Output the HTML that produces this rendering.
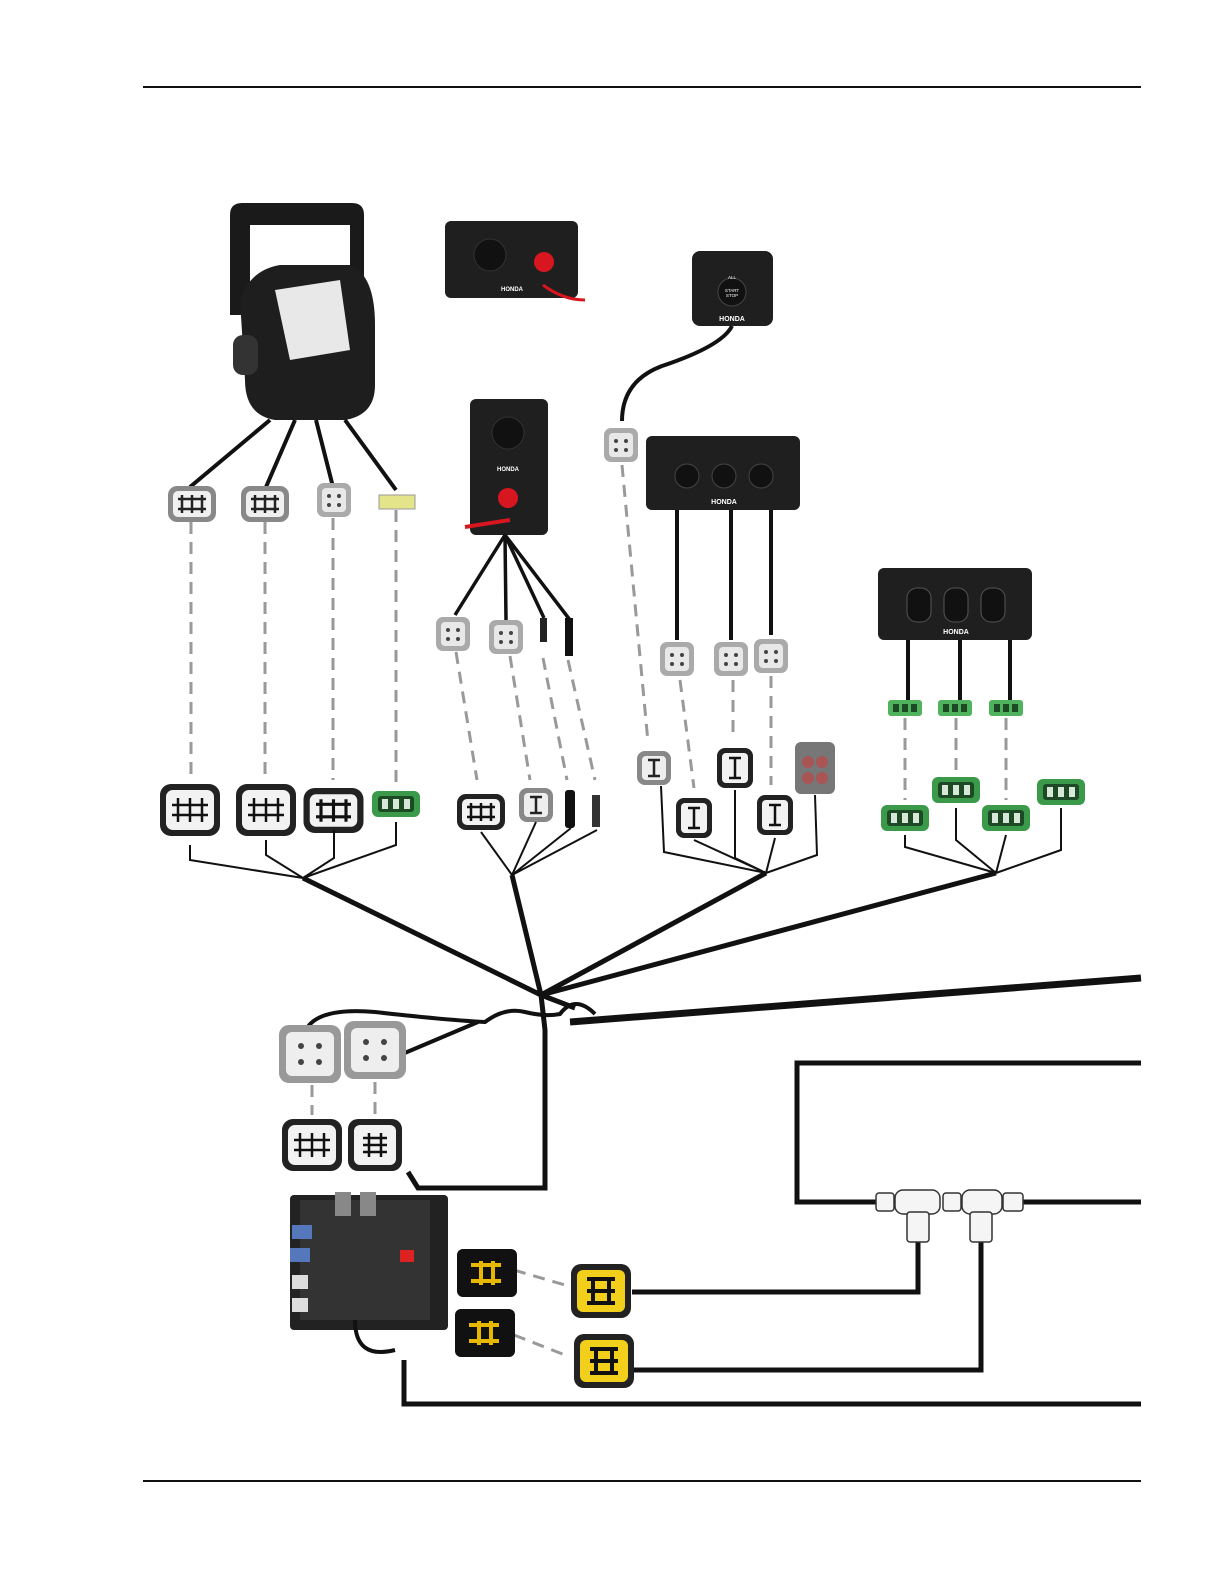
<!DOCTYPE html>
<html><head><meta charset="utf-8"><style>
html,body{margin:0;padding:0;background:#fff;overflow:hidden;width:1224px;height:1584px}
svg{display:block}
text{font-family:"Liberation Sans",sans-serif}
</style></head><body>
<svg width="1224" height="1584" viewBox="0 0 1224 1584" xmlns="http://www.w3.org/2000/svg">
<defs>
<g id="cw"><rect x="-24" y="-18" width="48" height="36" rx="9" fill="#222"/><rect x="-19" y="-13" width="38" height="26" rx="5" fill="#f2f2f2"/><path d="M-10-9v18M0-9v18M10-9v18M-14-5h28M-14 5h28" stroke="#111" stroke-width="2.5"/></g>
<g id="cwb"><rect x="-30" y="-26" width="60" height="52" rx="11" fill="#222"/><rect x="-24" y="-20" width="48" height="40" rx="7" fill="#f2f2f2"/><path d="M-12-12v24M0-12v24M12-12v24M-18-5h36M-18 5h36" stroke="#111" stroke-width="2.5"/></g>
<g id="cg"><rect x="-24" y="-18" width="48" height="36" rx="9" fill="#888"/><rect x="-19" y="-13" width="38" height="26" rx="5" fill="#f0f0f0"/><path d="M-10-9v18M0-9v18M10-9v18M-14-5h28M-14 5h28" stroke="#222" stroke-width="2.5"/></g>
<g id="cs"><rect x="-17" y="-17" width="34" height="34" rx="8" fill="#888"/><rect x="-12" y="-12" width="24" height="24" rx="4" fill="#eee"/><path d="M0-8v16M-6-8h12M-6 8h12" stroke="#222" stroke-width="2.5"/></g>
<g id="csb"><rect x="-18" y="-20" width="36" height="40" rx="8" fill="#222"/><rect x="-13" y="-15" width="26" height="30" rx="4" fill="#f2f2f2"/><path d="M0-10v20M-6-10h12M-6 10h12" stroke="#111" stroke-width="2.5"/></g>
<g id="csbb"><rect x="-27" y="-26" width="54" height="52" rx="10" fill="#222"/><rect x="-21" y="-20" width="42" height="40" rx="6" fill="#f2f2f2"/><path d="M-6-12v24M6-12v24M-12 0h24M-12-7h24M-12 7h24" stroke="#111" stroke-width="2.5"/></g>
<g id="green"><rect x="-24" y="-13" width="48" height="26" rx="6" fill="#3a9a4a"/><rect x="-18" y="-8" width="36" height="16" rx="3" fill="#1d4a25"/><rect x="-14" y="-5" width="6" height="10" fill="#d8e8d8"/><rect x="-3" y="-5" width="6" height="10" fill="#d8e8d8"/><rect x="8" y="-5" width="6" height="10" fill="#d8e8d8"/></g>
<g id="gsm"><rect x="-17" y="-8" width="34" height="16" rx="3" fill="#4fb35d"/><rect x="-12" y="-4" width="6" height="8" fill="#1d4a25"/><rect x="-3" y="-4" width="6" height="8" fill="#1d4a25"/><rect x="6" y="-4" width="6" height="8" fill="#1d4a25"/></g>
<g id="small"><rect x="-17" y="-17" width="34" height="34" rx="7" fill="#aaa"/><rect x="-12" y="-12" width="24" height="24" rx="4" fill="#e8e8e8"/><circle cx="-5" cy="-4" r="2" fill="#444"/><circle cx="5" cy="-4" r="2" fill="#444"/><circle cx="-5" cy="5" r="2" fill="#444"/><circle cx="5" cy="5" r="2" fill="#444"/></g>
<g id="bigg"><rect x="-31" y="-29" width="62" height="58" rx="10" fill="#999"/><rect x="-24" y="-22" width="48" height="44" rx="6" fill="#eee"/><circle cx="-9" cy="-8" r="3" fill="#444"/><circle cx="9" cy="-8" r="3" fill="#444"/><circle cx="-9" cy="8" r="3" fill="#444"/><circle cx="9" cy="8" r="3" fill="#444"/></g>
<g id="yel"><rect x="-30" y="-27" width="60" height="54" rx="10" fill="#222"/><rect x="-24" y="-21" width="48" height="42" rx="6" fill="#f2cf1a"/><path d="M-14-12h28M-14 12h28M-8-12v24M8-12v24M-14 0h28" stroke="#111" stroke-width="4"/></g>
<g id="yelb"><rect x="-30" y="-24" width="60" height="48" rx="6" fill="#111"/><path d="M-16-8h30M-16 8h30M-6-12v24M6-12v24" stroke="#e8b800" stroke-width="4"/></g>
</defs>
<line x1="143" y1="87" x2="1141" y2="87" stroke="#111" stroke-width="2"/>
<line x1="143" y1="1481" x2="1141" y2="1481" stroke="#111" stroke-width="2"/>

<path d="M230 215q0-12 12-12h110q12 0 12 12v90l-14 0v-80h-100v90l-20 0z" fill="#1a1a1a"/>
<path d="M240 300q10-30 40-35l70 0q25 10 25 60v60q0 30-30 35h-70q-30-5-30-40z" fill="#1e1e1e"/>
<path d="M275 290l65-10 10 70-60 10z" fill="#e8e8e8"/>
<rect x="233" y="335" width="25" height="40" rx="10" fill="#333"/>
<g stroke="#111" stroke-width="4" fill="none">
<path d="M270 420L190 487M295 420L266 487M316 420L333 487M345 420L396 490"/>
</g>
<use href="#cg" x="192" y="504"/><use href="#cg" x="265" y="504"/><use href="#small" x="334" y="500"/>
<rect x="379" y="495" width="36" height="14" fill="#e4e48a" stroke="#999"/>

<rect x="445" y="221" width="133" height="77" rx="6" fill="#1f1f1f"/>
<circle cx="490" cy="255" r="16" fill="#111" stroke="#333"/><circle cx="544" cy="262" r="10" fill="#d8161f"/>
<text x="512" y="291" font-size="6" fill="#fff" text-anchor="middle" font-weight="bold">HONDA</text>
<path d="M543 285q20 15 42 15" stroke="#d8161f" stroke-width="3" fill="none"/>

<rect x="692" y="251" width="81" height="75" rx="8" fill="#1f1f1f"/>
<circle cx="732" cy="292" r="14" fill="#111" stroke="#444"/>
<text x="732" y="321" font-size="7" fill="#fff" text-anchor="middle" font-weight="bold">HONDA</text>
<text x="732" y="279" font-size="4.5" fill="#fff" text-anchor="middle">ALL</text>
<text x="732" y="292" font-size="4.5" fill="#fff" text-anchor="middle">START</text>
<text x="732" y="297" font-size="4.5" fill="#fff" text-anchor="middle">STOP</text>
<path d="M732 326q-10 20-70 40q-40 15-40 55" stroke="#111" stroke-width="4" fill="none"/>
<use href="#small" x="621" y="445"/>

<rect x="470" y="399" width="78" height="136" rx="6" fill="#1f1f1f"/>
<circle cx="508" cy="433" r="16" fill="#111" stroke="#333"/><circle cx="508" cy="498" r="10" fill="#d8161f"/>
<text x="508" y="471" font-size="6" fill="#fff" text-anchor="middle" font-weight="bold">HONDA</text>
<path d="M465 527l45-7" stroke="#d8161f" stroke-width="4"/>
<g stroke="#111" stroke-width="3.5" fill="none"><path d="M505 535L455 615M505 535L506 620M505 535L544 618M505 535L570 620"/></g>
<use href="#small" x="453" y="634"/><use href="#small" x="506" y="637"/>
<rect x="540" y="618" width="7" height="24" fill="#222"/><rect x="565" y="618" width="8" height="38" fill="#111"/>

<rect x="646" y="436" width="154" height="74" rx="6" fill="#1f1f1f"/>
<circle cx="687" cy="476" r="12" fill="#111" stroke="#444"/><circle cx="724" cy="476" r="12" fill="#111" stroke="#444"/><circle cx="761" cy="476" r="12" fill="#111" stroke="#444"/>
<text x="724" y="504" font-size="7" fill="#fff" text-anchor="middle" font-weight="bold">HONDA</text>
<g stroke="#111" stroke-width="4"><path d="M677 510V640M731 510V640M771 510V635"/></g>
<use href="#small" x="677" y="659"/><use href="#small" x="731" y="659"/><use href="#small" x="771" y="656"/>

<rect x="878" y="568" width="154" height="72" rx="6" fill="#1f1f1f"/>
<rect x="907" y="588" width="24" height="34" rx="10" fill="#111" stroke="#555"/><rect x="944" y="588" width="24" height="34" rx="10" fill="#111" stroke="#555"/><rect x="981" y="588" width="24" height="34" rx="10" fill="#111" stroke="#555"/>
<text x="956" y="634" font-size="7" fill="#fff" text-anchor="middle" font-weight="bold">HONDA</text>
<g stroke="#111" stroke-width="4"><path d="M908 640V700M960 640V700M1010 640V700"/></g>
<use href="#gsm" x="905" y="708"/><use href="#gsm" x="955" y="708"/><use href="#gsm" x="1006" y="708"/>

<g stroke="#999" stroke-width="3" stroke-dasharray="12 8" fill="none">
<path d="M191 522V780M265 522V780M333 518V780M396 510V785"/>
<path d="M456 652L477 780M510 656L530 780M543 658L567 780M568 660L595 780"/>
<path d="M622 465L648 742M680 680L694 788M733 680L733 740M771 676L771 785"/>
<path d="M905 718V800M956 718V775M1006 718V800"/>
<path d="M312 1085V1115M375 1082V1115M514 1270L565 1285M514 1335L565 1355"/>
</g>

<use href="#cwb" x="190" y="810"/><use href="#cwb" x="266" y="810"/><use href="#cw" x="334" y="810" transform="translate(-84 -202) scale(1.25)"/><use href="#green" x="396" y="804"/>
<use href="#cw" x="481" y="812"/><use href="#cs" x="536" y="805"/>
<rect x="565" y="790" width="10" height="38" rx="3" fill="#111"/><rect x="592" y="795" width="8" height="32" fill="#333"/>
<use href="#cs" x="654" y="768"/><use href="#csb" x="694" y="818"/><use href="#csb" x="735" y="768"/><use href="#csb" x="775" y="815"/>
<rect x="795" y="742" width="40" height="52" rx="6" fill="#777"/><circle cx="808" cy="762" r="6" fill="#a55"/><circle cx="822" cy="762" r="6" fill="#a55"/><circle cx="808" cy="778" r="6" fill="#a55"/><circle cx="822" cy="778" r="6" fill="#a55"/>
<use href="#green" x="905" y="818"/><use href="#green" x="956" y="790"/><use href="#green" x="1006" y="818"/><use href="#green" x="1061" y="792"/>

<g stroke="#111" stroke-width="2" fill="none">
<path d="M190 845V860L303 878M266 840V855L303 878M334 830V858L303 878M396 822V845L303 878"/>
<path d="M481 832L512 875M536 822L512 875M571 828L512 875M597 830L512 875"/>
<path d="M661 786L664 852L766 873M694 840L766 873M735 790L735 858L766 873M775 838L766 873M815 795L817 855L766 873"/>
<path d="M905 835V847L996 873M956 808L956 840L996 873M1006 835L996 873M1061 808V850L996 873"/>
</g>
<g stroke="#111" stroke-width="5" fill="none">
<path d="M303 878L541 995M512 875L541 995M766 873L541 995M996 873L541 995"/>
<path d="M541 995L545 1030V1188H418L408 1172"/>
<path d="M541 995L575 1008" />
</g>
<path d="M570 1022L1141 978" stroke="#111" stroke-width="7"/>
<path d="M305 1032q10-25 70-20q70 8 110 10q20-15 40-10q20 5 35 2q15-20 35 0" stroke="#111" stroke-width="4" fill="none"/>
<path d="M400 1055L478 1022" stroke="#111" stroke-width="4"/>
<use href="#bigg" x="310" y="1054"/>
<use href="#bigg" x="375" y="1050"/>
<use href="#cwb" x="312" y="1145"/><use href="#csbb" x="375" y="1145"/>

<g stroke="#111" stroke-width="5" fill="none">
<path d="M1141 1063H797V1202H878"/>
<path d="M1015 1202H1141"/>
<path d="M918 1240V1292H632"/>
<path d="M981 1240V1370H632"/>
<path d="M404 1360V1404H1141"/>
</g>
<g fill="#f5f5f5" stroke="#333" stroke-width="1.5">
<rect x="876" y="1193" width="18" height="18" rx="3"/><rect x="895" y="1190" width="45" height="24" rx="8"/><rect x="907" y="1212" width="22" height="30" rx="3"/>
<rect x="943" y="1193" width="18" height="18" rx="3"/><rect x="962" y="1190" width="40" height="24" rx="8"/><rect x="970" y="1212" width="22" height="30" rx="3"/><rect x="1003" y="1193" width="20" height="18" rx="3"/>
</g>

<rect x="290" y="1195" width="158" height="135" rx="4" fill="#222"/>
<rect x="300" y="1200" width="130" height="120" fill="#333"/>
<rect x="292" y="1225" width="20" height="14" fill="#5577bb"/><rect x="290" y="1248" width="20" height="14" fill="#5577bb"/>
<rect x="292" y="1275" width="16" height="14" fill="#ddd"/><rect x="292" y="1298" width="16" height="14" fill="#ddd"/>
<rect x="335" y="1192" width="16" height="24" fill="#888"/><rect x="360" y="1192" width="16" height="24" fill="#888"/>
<rect x="400" y="1250" width="14" height="12" fill="#d22"/>
<path d="M355 1320q0 40 40 30" stroke="#111" stroke-width="4" fill="none"/>

<use href="#yelb" x="487" y="1273"/><use href="#yelb" x="485" y="1333"/>
<use href="#yel" x="601" y="1291"/><use href="#yel" x="604" y="1361"/>
</svg>
</body></html>
